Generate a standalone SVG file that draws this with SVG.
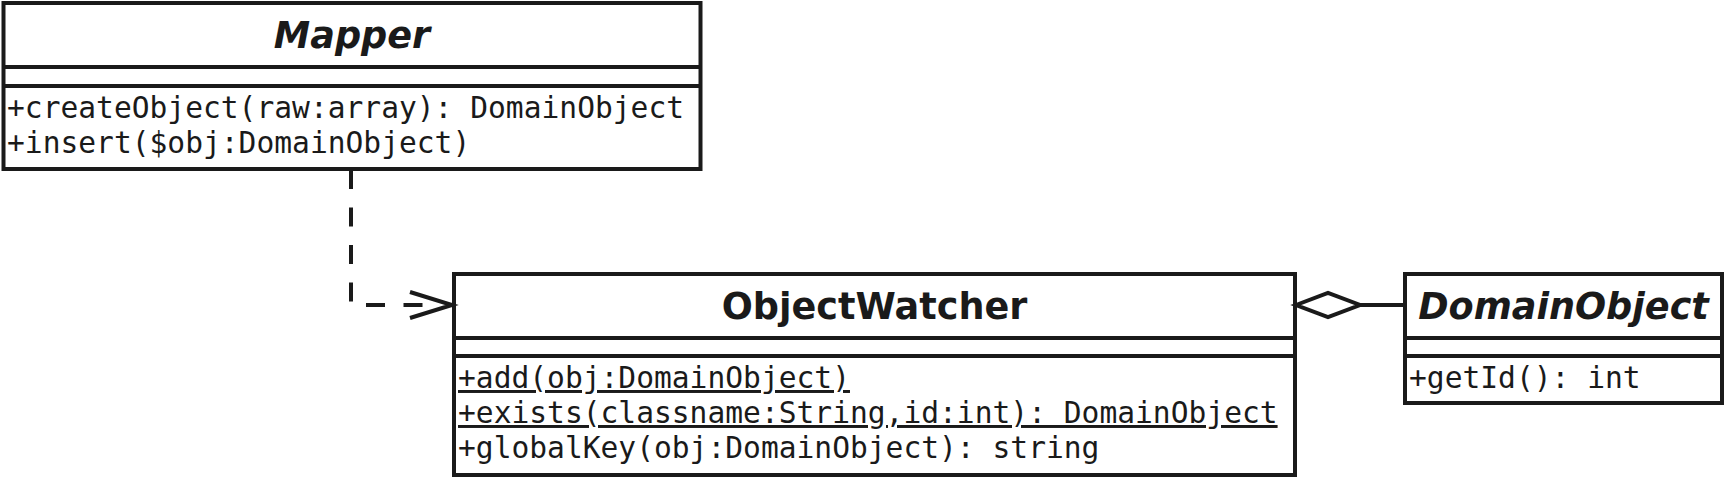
<svg xmlns="http://www.w3.org/2000/svg" width="1725" height="479" viewBox="0 0 1725 479">
  <style>
    .box { fill: #ffffff; stroke: #1a1a1a; stroke-width: 4; }
    .div { stroke: #1a1a1a; stroke-width: 4; fill: none; }
    .title { font-family: "DejaVu Sans", sans-serif; font-weight: bold; font-size: 36.6px; fill: #1a1a1a; text-anchor: middle; }
    .abstract { font-style: oblique; }
    .op { font-family: "DejaVu Sans Mono", monospace; font-size: 29.6px; fill: #1a1a1a; }
    .static { text-decoration: underline; }
    .edge { stroke: #1a1a1a; stroke-width: 4; fill: none; }
  </style>
  <rect width="1725" height="479" fill="#ffffff"/>

  <g id="Mapper">
    <rect class="box" x="3.5" y="3" width="697" height="166"/>
    <line class="div" x1="3.5" y1="67" x2="700.5" y2="67"/>
    <line class="div" x1="3.5" y1="86" x2="700.5" y2="86"/>
    <text class="title abstract" x="352" y="48">Mapper</text>
    <text class="op" x="7" y="118">+createObject(raw:array): DomainObject</text>
    <text class="op" x="7" y="153">+insert($obj:DomainObject)</text>
  </g>

  <g id="ObjectWatcher">
    <rect class="box" x="454" y="274" width="841" height="201"/>
    <line class="div" x1="454" y1="338" x2="1295" y2="338"/>
    <line class="div" x1="454" y1="356" x2="1295" y2="356"/>
    <text class="title" x="874.5" y="319">ObjectWatcher</text>
    <text class="op static" x="458" y="388">+add(obj:DomainObject)</text>
    <text class="op static" x="458" y="423">+exists(classname:String,id:int): DomainObject</text>
    <text class="op" x="458" y="458">+globalKey(obj:DomainObject): string</text>
  </g>

  <g id="DomainObject">
    <rect class="box" x="1405" y="274" width="317" height="129"/>
    <line class="div" x1="1405" y1="338" x2="1722" y2="338"/>
    <line class="div" x1="1405" y1="356" x2="1722" y2="356"/>
    <text class="title abstract" x="1563.5" y="319">DomainObject</text>
    <text class="op" x="1409" y="388">+getId(): int</text>
  </g>

  <g id="connectors">
    <path class="edge" d="M351,170 V305 H440" stroke-dasharray="19 18.5"/>
    <polyline class="edge" stroke-width="5" points="410,292 452,305 410,318"/>
    <polygon class="edge" points="1296,305 1328,293 1360,305 1328,317" fill="#ffffff"/>
    <line class="edge" x1="1360" y1="305" x2="1405" y2="305"/>
  </g>
</svg>
